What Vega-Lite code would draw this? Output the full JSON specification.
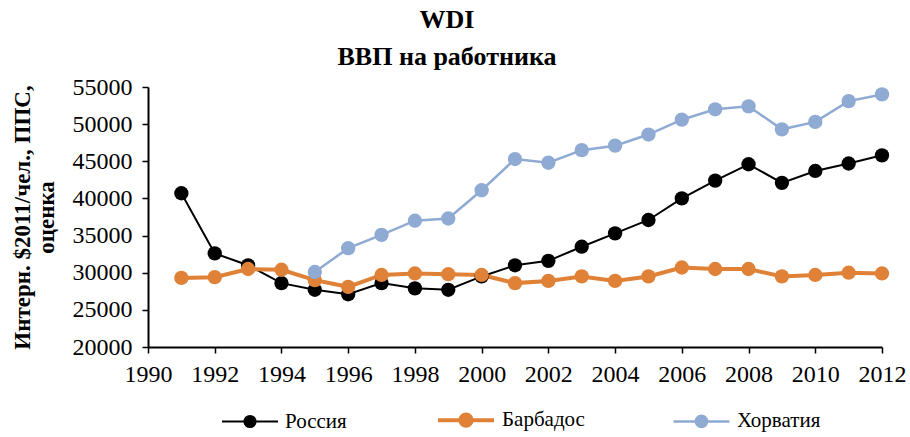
{
  "$schema": "https://vega.github.io/schema/vega-lite/v6.json",
  "width": 734,
  "height": 260,
  "autosize": {"type": "none"},
  "padding": {"left": 148, "top": 87, "right": 28, "bottom": 90},
  "background": "white",
  "title": {
    "text": ["WDI", "ВВП на работника"],
    "font": "Times New Roman, Liberation Serif, serif",
    "fontSize": 26,
    "fontWeight": "bold",
    "color": "black",
    "anchor": "middle",
    "lineHeight": 37,
    "offset": 5,
    "dx": -68
  },
  "config": {
    "view": {"stroke": null},
    "font": "Times New Roman, Liberation Serif, serif"
  },
  "data": {
    "values": [
      {"year": 1991, "country": "Россия", "value": 40700},
      {"year": 1992, "country": "Россия", "value": 32600},
      {"year": 1993, "country": "Россия", "value": 31000},
      {"year": 1994, "country": "Россия", "value": 28600},
      {"year": 1995, "country": "Россия", "value": 27700},
      {"year": 1996, "country": "Россия", "value": 27100},
      {"year": 1997, "country": "Россия", "value": 28600},
      {"year": 1998, "country": "Россия", "value": 27900},
      {"year": 1999, "country": "Россия", "value": 27700},
      {"year": 2000, "country": "Россия", "value": 29500},
      {"year": 2001, "country": "Россия", "value": 31000},
      {"year": 2002, "country": "Россия", "value": 31600},
      {"year": 2003, "country": "Россия", "value": 33500},
      {"year": 2004, "country": "Россия", "value": 35300},
      {"year": 2005, "country": "Россия", "value": 37100},
      {"year": 2006, "country": "Россия", "value": 40000},
      {"year": 2007, "country": "Россия", "value": 42400},
      {"year": 2008, "country": "Россия", "value": 44600},
      {"year": 2009, "country": "Россия", "value": 42100},
      {"year": 2010, "country": "Россия", "value": 43700},
      {"year": 2011, "country": "Россия", "value": 44700},
      {"year": 2012, "country": "Россия", "value": 45800},
      {"year": 1991, "country": "Барбадос", "value": 29300},
      {"year": 1992, "country": "Барбадос", "value": 29400},
      {"year": 1993, "country": "Барбадос", "value": 30500},
      {"year": 1994, "country": "Барбадос", "value": 30400},
      {"year": 1995, "country": "Барбадос", "value": 29000},
      {"year": 1996, "country": "Барбадос", "value": 28100},
      {"year": 1997, "country": "Барбадос", "value": 29700},
      {"year": 1998, "country": "Барбадос", "value": 29900},
      {"year": 1999, "country": "Барбадос", "value": 29800},
      {"year": 2000, "country": "Барбадос", "value": 29700},
      {"year": 2001, "country": "Барбадос", "value": 28600},
      {"year": 2002, "country": "Барбадос", "value": 28900},
      {"year": 2003, "country": "Барбадос", "value": 29500},
      {"year": 2004, "country": "Барбадос", "value": 28900},
      {"year": 2005, "country": "Барбадос", "value": 29500},
      {"year": 2006, "country": "Барбадос", "value": 30700},
      {"year": 2007, "country": "Барбадос", "value": 30500},
      {"year": 2008, "country": "Барбадос", "value": 30500},
      {"year": 2009, "country": "Барбадос", "value": 29500},
      {"year": 2010, "country": "Барбадос", "value": 29700},
      {"year": 2011, "country": "Барбадос", "value": 30000},
      {"year": 2012, "country": "Барбадос", "value": 29900},
      {"year": 1995, "country": "Хорватия", "value": 30100},
      {"year": 1996, "country": "Хорватия", "value": 33300},
      {"year": 1997, "country": "Хорватия", "value": 35100},
      {"year": 1998, "country": "Хорватия", "value": 37000},
      {"year": 1999, "country": "Хорватия", "value": 37300},
      {"year": 2000, "country": "Хорватия", "value": 41100},
      {"year": 2001, "country": "Хорватия", "value": 45300},
      {"year": 2002, "country": "Хорватия", "value": 44800},
      {"year": 2003, "country": "Хорватия", "value": 46500},
      {"year": 2004, "country": "Хорватия", "value": 47100},
      {"year": 2005, "country": "Хорватия", "value": 48600},
      {"year": 2006, "country": "Хорватия", "value": 50600},
      {"year": 2007, "country": "Хорватия", "value": 52000},
      {"year": 2008, "country": "Хорватия", "value": 52400},
      {"year": 2009, "country": "Хорватия", "value": 49300},
      {"year": 2010, "country": "Хорватия", "value": 50300},
      {"year": 2011, "country": "Хорватия", "value": 53100},
      {"year": 2012, "country": "Хорватия", "value": 54000}
    ]
  },
  "encoding": {
    "x": {
      "field": "year",
      "type": "quantitative",
      "scale": {"domain": [1990, 2012], "nice": false, "zero": false},
      "axis": {
        "title": null,
        "values": [1990, 1992, 1994, 1996, 1998, 2000, 2002, 2004, 2006, 2008, 2010, 2012],
        "format": "d",
        "grid": false,
        "domainColor": "black",
        "domainWidth": 2,
        "tickColor": "black",
        "tickWidth": 1.5,
        "tickSize": 6,
        "labelFont": "Times New Roman, Liberation Serif, serif",
        "labelFontSize": 24,
        "labelColor": "black",
        "labelPadding": 9,
        "labelFlush": false,
        "labelOverlap": false
      }
    },
    "y": {
      "field": "value",
      "type": "quantitative",
      "scale": {"domain": [20000, 55000], "nice": false, "zero": false},
      "axis": {
        "title": ["Интерн. $2011/чел., ППС,", "оценка"],
        "titleFont": "Times New Roman, Liberation Serif, serif",
        "titleFontSize": 23,
        "titleFontWeight": "bold",
        "titleColor": "black",
        "titleLineHeight": 24,
        "titleX": -119,
        "titleBaseline": "alphabetic",
        "values": [20000, 25000, 30000, 35000, 40000, 45000, 50000, 55000],
        "format": "d",
        "grid": false,
        "domainColor": "black",
        "domainWidth": 2,
        "tickColor": "black",
        "tickWidth": 1.5,
        "tickSize": 6,
        "labelFont": "Times New Roman, Liberation Serif, serif",
        "labelFontSize": 24,
        "labelColor": "black",
        "labelPadding": 10,
        "labelFlush": false,
        "labelOverlap": false
      }
    },
    "color": {
      "field": "country",
      "type": "nominal",
      "scale": {
        "domain": ["Россия", "Барбадос", "Хорватия"],
        "range": ["#000000", "#DF8238", "#8FAAD3"]
      },
      "legend": {
        "title": null,
        "orient": "none",
        "direction": "horizontal",
        "legendX": 73,
        "legendY": 303,
        "symbolType": "M-1,0H1M-0.2,0A0.2,0.2,0,1,1,0.2,0A0.2,0.2,0,1,1,-0.2,0Z",
        "symbolSize": 3136,
        "symbolStrokeWidth": 2.5,
        "labelFont": "Times New Roman, Liberation Serif, serif",
        "labelFontSize": 21,
        "labelColor": "black",
        "labelOffset": 6,
        "columnPadding": 83,
        "labelLimit": 200
      }
    }
  },
  "layer": [
    {
      "mark": {"type": "line"},
      "encoding": {
        "strokeWidth": {
          "field": "country",
          "type": "nominal",
          "scale": {"type": "ordinal", "domain": ["Россия", "Барбадос", "Хорватия"], "range": [2, 4, 2.5]},
          "legend": null
        }
      }
    },
    {
      "mark": {"type": "point", "filled": true, "opacity": 1, "size": 205}
    }
  ]
}
